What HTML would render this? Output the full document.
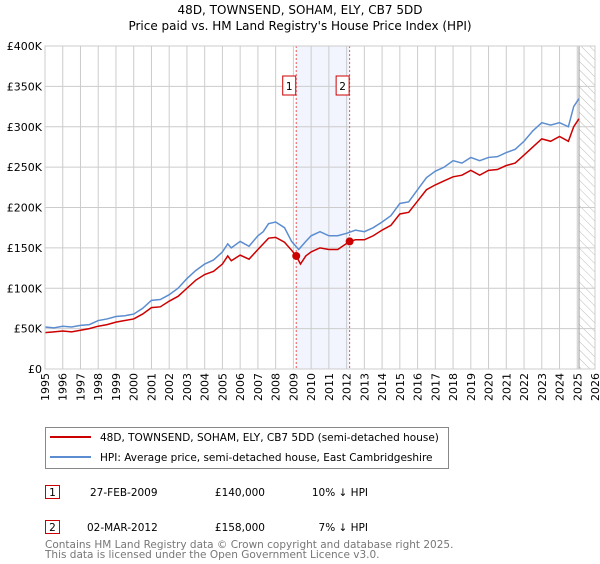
<!DOCTYPE html>
<html><head><meta charset="utf-8"><style>
body{margin:0;background:#fff;font-family:"DejaVu Sans","Liberation Sans",sans-serif;}
svg text{font-family:"DejaVu Sans","Liberation Sans",sans-serif;}
</style></head><body>
<svg id="c" width="600" height="560" xmlns="http://www.w3.org/2000/svg">
<defs><pattern id="hatch" width="6" height="6" patternUnits="userSpaceOnUse" patternTransform="rotate(-45)"><line x1="0" y1="0" x2="0" y2="6" stroke="#bbb" stroke-width="1"/></pattern></defs>
<text x="300" y="14" font-size="12" text-anchor="middle">48D, TOWNSEND, SOHAM, ELY, CB7 5DD</text>
<text x="300" y="30" font-size="12" text-anchor="middle">Price paid vs. HM Land Registry's House Price Index (HPI)</text>
<g id="plot"></g>
<g>
<rect x="45.5" y="427.5" width="403" height="41" fill="#fff" stroke="#888"/>
<line x1="50" y1="437" x2="91" y2="437" stroke="#cc0000" stroke-width="2"/>
<text x="100" y="441" font-size="10.5">48D, TOWNSEND, SOHAM, ELY, CB7 5DD (semi-detached house)</text>
<line x1="50" y1="457" x2="91" y2="457" stroke="#5b8dd0" stroke-width="2"/>
<text x="100" y="461" font-size="10.5">HPI: Average price, semi-detached house, East Cambridgeshire</text>
</g>
<g font-size="10.5">
<rect x="45.5" y="485.5" width="14" height="13" fill="#fff" stroke="#cc0000"/><text x="52.5" y="496" text-anchor="middle">1</text>
<text x="90" y="496">27-FEB-2009</text><text x="265" y="496" text-anchor="end">£140,000</text><text x="368" y="496" text-anchor="end">10% ↓ HPI</text>
<rect x="45.5" y="520.5" width="14" height="13" fill="#fff" stroke="#cc0000"/><text x="52.5" y="531" text-anchor="middle">2</text>
<text x="87" y="531">02-MAR-2012</text><text x="265" y="531" text-anchor="end">£158,000</text><text x="368" y="531" text-anchor="end">7% ↓ HPI</text>
</g>
<text x="45" y="548" font-size="10.5" fill="#777">Contains HM Land Registry data © Crown copyright and database right 2025.</text>
<text x="45" y="558" font-size="10.5" fill="#777">This data is licensed under the Open Government Licence v3.0.</text>
</svg>
<script>
const hpiYears=[1995,1995.5,1996,1996.5,1997,1997.5,1998,1998.5,1999,1999.5,2000,2000.5,2001,2001.5,2002,2002.5,2003,2003.5,2004,2004.5,2005,2005.3,2005.5,2006,2006.5,2007,2007.3,2007.6,2008,2008.5,2008.9,2009.3,2009.7,2010,2010.5,2011,2011.5,2012,2012.5,2013,2013.5,2014,2014.5,2015,2015.5,2016,2016.5,2017,2017.5,2018,2018.5,2019,2019.5,2020,2020.5,2021,2021.5,2022,2022.5,2023,2023.5,2024,2024.5,2024.8,2025.1];
const hpiValues=[52,51,53,52,54,55,60,62,65,66,68,75,85,86,92,100,112,122,130,135,145,155,150,158,152,165,170,180,182,175,158,148,158,165,170,165,165,168,172,170,175,182,190,205,207,222,237,245,250,258,255,262,258,262,263,268,272,282,295,305,302,305,300,325,335];
const priceYears=[1995,1995.5,1996,1996.5,1997,1997.5,1998,1998.5,1999,1999.5,2000,2000.5,2001,2001.5,2002,2002.5,2003,2003.5,2004,2004.5,2005,2005.3,2005.5,2006,2006.5,2007,2007.3,2007.6,2008,2008.5,2008.9,2009.16,2009.4,2009.7,2010,2010.5,2011,2011.5,2012.17,2012.5,2013,2013.5,2014,2014.5,2015,2015.5,2016,2016.5,2017,2017.5,2018,2018.5,2019,2019.5,2020,2020.5,2021,2021.5,2022,2022.5,2023,2023.5,2024,2024.5,2024.8,2025.1];
const priceValues=[45,46,47,46,48,50,53,55,58,60,62,68,76,77,84,90,100,110,117,121,130,140,134,141,136,148,155,162,163,157,147,140,130,140,145,150,148,148,158,160,160,165,172,178,192,194,208,222,228,233,238,240,246,240,246,247,252,255,265,275,285,282,288,282,300,310];
const saleYears=[2009.16,2012.17];
const saleValues=[140,158];
const yTicks=[0,50,100,150,200,250,300,350,400];
const yTickLabels=["£0","£50K","£100K","£150K","£200K","£250K","£300K","£350K","£400K"];
const xTicks=[1995,1996,1997,1998,1999,2000,2001,2002,2003,2004,2005,2006,2007,2008,2009,2010,2011,2012,2013,2014,2015,2016,2017,2018,2019,2020,2021,2022,2023,2024,2025,2026];
const L=45,R=595,T=46,B=369;
const X=y=>L+(y-1995)/(2026-1995)*(R-L);
const Y=v=>B-v/400*(B-T);
const g=document.getElementById('plot');
const NS="http://www.w3.org/2000/svg";
function mk(t,a,p){const e=document.createElementNS(NS,t);for(const k in a)e.setAttribute(k,a[k]);(p||g).appendChild(e);return e;}
let e;
e=mk('rect',{x:X(saleYears[0]),y:T,width:X(saleYears[1])-X(saleYears[0]),height:B-T,fill:'#f2f5fd'});


e=mk('rect',{x:X(2025.1),y:T,width:R-X(2025.1),height:B-T,fill:'url(#hatch)'});


xTicks.forEach(t=>{
e=mk('line',{x1:X(t),x2:X(t),y1:T,y2:B,stroke:'#ccc'});


e=mk('text',{x:0,y:0,'font-size':11,transform:`translate(${X(t)+4},${B+4}) rotate(-90)`,'text-anchor':'end'});
e.textContent=t;


});
yTicks.forEach((t,i)=>{
e=mk('line',{x1:L,x2:R,y1:Y(t),y2:Y(t),stroke:'#ccc'});


e=mk('text',{x:L-3,y:Y(t)+4,'font-size':11,'text-anchor':'end'});
e.textContent=yTickLabels[i];


});
e=mk('line',{x1:X(2025.1),x2:X(2025.1),y1:T,y2:B,stroke:'#999'});


saleYears.forEach((s,i)=>{
e=mk('line',{x1:X(s),x2:X(s),y1:T,y2:B,stroke:'#ee5555','stroke-dasharray':'2,2'});


const bx=X(s);
e=mk('rect',{x:bx-13.5,y:76,width:13,height:19,fill:'#fff',stroke:'#cc0000'});


e=mk('text',{x:bx-7,y:90,'font-size':10.5,'text-anchor':'middle'});
e.textContent=String(i+1);


});
e=mk('polyline',{points:hpiYears.map((y,i)=>X(y)+','+Y(hpiValues[i])).join(' '),fill:'none',stroke:'#5b8dd0','stroke-width':1.5});


e=mk('polyline',{points:priceYears.map((y,i)=>X(y)+','+Y(priceValues[i])).join(' '),fill:'none',stroke:'#cc0000','stroke-width':1.5});


saleYears.forEach((s,i)=>{
e=mk('circle',{cx:X(s),cy:Y(saleValues[i]),r:4,fill:'#cc0000'});


});
e=mk('rect',{x:L,y:T,width:R-L,height:B-T,fill:'none',stroke:'#ccc'});


</script>
</body></html>
